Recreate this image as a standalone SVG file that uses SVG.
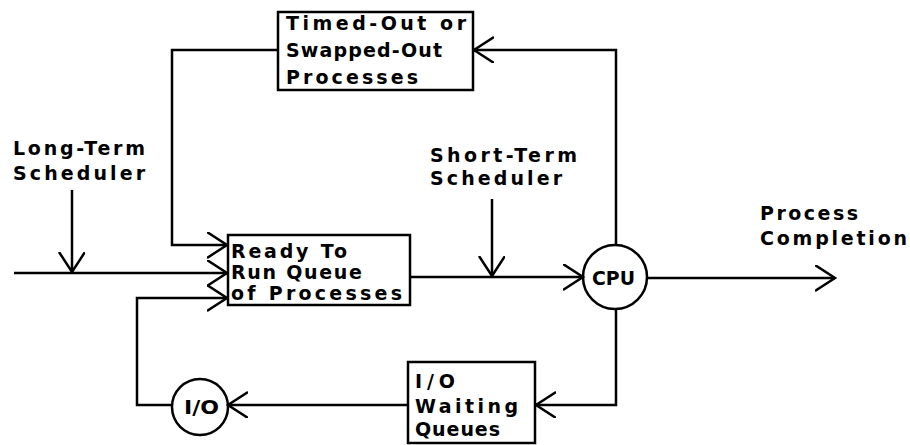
<svg xmlns="http://www.w3.org/2000/svg" width="910" height="445" viewBox="0 0 910 445">
<defs>
<style>
.box{fill:#fff;stroke:#000;stroke-width:2.5}
.ln{fill:none;stroke:#000;stroke-width:2.5;marker-end:url(#ah)}
.pl{fill:none;stroke:#000;stroke-width:2.5}
text{font-family:"DejaVu Sans","Liberation Sans",sans-serif;font-size:19px;font-weight:bold;fill:#000}
</style>
<marker id="ah" markerUnits="userSpaceOnUse" markerWidth="30" markerHeight="30" refX="20" refY="13" orient="auto" viewBox="0 0 30 30">
<path d="M0,0 L20,13 L0,26" fill="none" stroke="#000" stroke-width="2.5"/>
</marker>
</defs>
<rect width="910" height="445" fill="#fff"/>
<g id="connectors">
<polyline class="ln" points="616,245 616,50 474,50"/>
<polyline class="ln" points="278,50 172,50 172,245 227,245"/>
<polyline class="ln" points="14,273 227,273"/>
<polyline class="ln" points="72,190 72,272"/>
<polyline class="ln" points="410,277 583,277"/>
<polyline class="ln" points="492,199 492,276"/>
<polyline class="ln" points="647,278 835,278"/>
<polyline class="ln" points="616,309 616,405 536,405"/>
<polyline class="ln" points="408,405 228,405"/>
<polyline class="ln" points="172,405 137,405 137,298 227,298"/>
</g>
<g id="timed-out">
<rect class="box" x="278" y="12" width="195" height="78"/>
<text x="286" y="30" textLength="180" lengthAdjust="spacing">Timed-Out or</text>
<text x="286" y="57" textLength="156" lengthAdjust="spacing">Swapped-Out</text>
<text x="286" y="84" textLength="132" lengthAdjust="spacing">Processes</text>
</g>
<g id="long-term">
<text x="13" y="155" textLength="132" lengthAdjust="spacing">Long-Term</text>
<text x="13" y="180" textLength="132" lengthAdjust="spacing">Scheduler</text>
</g>
<g id="ready">
<rect class="box" x="228" y="235" width="182" height="70"/>
<text x="231" y="258" textLength="116" lengthAdjust="spacing">Ready To</text>
<text x="231" y="279" textLength="131" lengthAdjust="spacing">Run Queue</text>
<text x="231" y="300" textLength="171" lengthAdjust="spacing">of Processes</text>
</g>
<g id="short-term">
<text x="430" y="162" textLength="147" lengthAdjust="spacing">Short-Term</text>
<text x="430" y="185" textLength="132" lengthAdjust="spacing">Scheduler</text>
</g>
<g id="cpu">
<circle class="pl" cx="615" cy="277" r="32" fill="#fff"/>
<text x="592" y="285" textLength="43" lengthAdjust="spacingAndGlyphs">CPU</text>
</g>
<g id="completion">
<text x="760" y="220" textLength="98" lengthAdjust="spacing">Process</text>
<text x="760" y="245" textLength="147" lengthAdjust="spacing">Completion</text>
</g>
<g id="io-waiting">
<rect class="box" x="408" y="362" width="127" height="81"/>
<text x="415" y="388" textLength="40" lengthAdjust="spacing">I/O</text>
<text x="415" y="413" textLength="103" lengthAdjust="spacing">Waiting</text>
<text x="415" y="436" textLength="85" lengthAdjust="spacing">Queues</text>
</g>
<g id="io">
<circle class="pl" cx="200" cy="407" r="28" fill="#fff"/>
<text x="184" y="414" textLength="35" lengthAdjust="spacingAndGlyphs">I/O</text>
</g>
</svg>
